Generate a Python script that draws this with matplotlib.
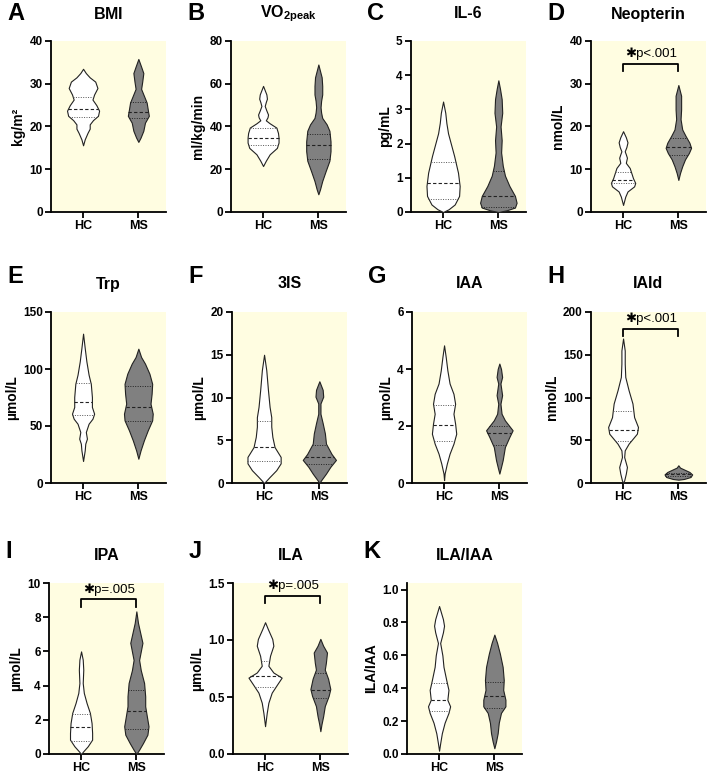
import numpy as np
import matplotlib
matplotlib.use("Agg")
import matplotlib.pyplot as plt

plt.rcParams["font.family"] = ["Liberation Sans", "DejaVu Sans"]
plt.rcParams["font.weight"] = "bold"
plt.rcParams["mathtext.fontset"] = "custom"
plt.rcParams["mathtext.rm"] = "Liberation Sans:bold"
plt.rcParams["mathtext.bf"] = "Liberation Sans:bold"

groups = ["HC", "MS"]

# violin outlines: y level and half width (x units, 1 = group spacing)
bmi_hc_y = [15.6, 17, 18.5, 19.5, 20.5, 21.5, 22.5, 23.7, 25, 26.3, 27.5, 29, 30.5, 31.5, 32.5, 33.5]
bmi_hc_w = [0, 0.03, 0.08, 0.12, 0.12, 0.18, 0.27, 0.29, 0.24, 0.17, 0.2, 0.26, 0.22, 0.12, 0.05, 0]
bmi_ms_y = [16.4, 17.4, 19, 20.9, 22.5, 24, 25.6, 27.2, 28.8, 30.5, 32.5, 34, 35.8]
bmi_ms_w = [0, 0.04, 0.09, 0.12, 0.19, 0.17, 0.15, 0.1, 0.05, 0.07, 0.09, 0.05, 0]
bmi_q = [[22.3, 24.0, 26.8], [21.9, 23.3, 25.8]]

vo2_hc_y = [21.5, 24, 27, 30, 32.5, 34.8, 37, 39.5, 41.5, 42.9, 44.3, 45.6, 47.5, 49.6, 51.5, 53, 55, 57, 59]
vo2_hc_w = [0, 0.05, 0.12, 0.25, 0.28, 0.28, 0.27, 0.24, 0.12, 0.05, 0.08, 0.09, 0.06, 0.03, 0.05, 0.07, 0.06, 0.03, 0]
vo2_ms_y = [8.3, 10.6, 14.5, 19, 24, 28.5, 33, 38, 41, 44, 46.5, 49, 52, 55, 59, 63, 66, 69]
vo2_ms_w = [0, 0.03, 0.07, 0.13, 0.2, 0.22, 0.22, 0.2, 0.15, 0.07, 0.05, 0.04, 0.05, 0.07, 0.07, 0.06, 0.03, 0]
vo2_q = [[31.4, 34.8, 39.2], [24.6, 31.2, 36.7]]

il6_hc_y = [0, 0.08, 0.22, 0.47, 0.76, 1.15, 1.64, 2.0, 2.3, 2.6, 2.9, 3.23]
il6_hc_w = [0, 0.1, 0.21, 0.29, 0.3, 0.27, 0.2, 0.14, 0.09, 0.06, 0.04, 0]
il6_ms_y = [0, 0.05, 0.13, 0.27, 0.47, 0.76, 1.06, 1.35, 1.74, 2.1, 2.5, 2.9, 3.3, 3.6, 3.85]
il6_ms_w = [0, 0.15, 0.3, 0.33, 0.3, 0.2, 0.12, 0.08, 0.05, 0.06, 0.04, 0.07, 0.06, 0.03, 0]
il6_q = [[0.39, 0.84, 1.45], [0.16, 0.48, 1.2]]

neo_hc_y = [1.65, 3.6, 4.8, 6.0, 6.8, 7.9, 9.1, 10.3, 11.5, 12.7, 13.5, 14.2, 15.2, 16.3, 17.5, 18.9]
neo_hc_w = [0, 0.04, 0.08, 0.2, 0.22, 0.18, 0.15, 0.12, 0.05, 0.07, 0.05, 0.03, 0.06, 0.08, 0.05, 0]
neo_ms_y = [7.5, 9.1, 10.7, 12.3, 13.8, 15, 16.2, 17.8, 19.3, 21.7, 24, 27.2, 29.7]
neo_ms_w = [0, 0.03, 0.07, 0.12, 0.19, 0.23, 0.2, 0.13, 0.07, 0.04, 0.05, 0.05, 0]
neo_q = [[6.8, 7.5, 9.3], [13.4, 15.2, 17.4]]

trp_hc_y = [19.3, 28.7, 34.5, 38.9, 44.7, 52, 56.4, 60.8, 66.7, 75.4, 87, 95, 106.7, 118.4, 131]
trp_hc_w = [0, 0.03, 0.04, 0.07, 0.05, 0.1, 0.17, 0.2, 0.16, 0.16, 0.14, 0.1, 0.06, 0.03, 0]
trp_ms_y = [21.3, 28.6, 37.4, 46.2, 55, 60.8, 69.6, 78.4, 87, 95.9, 104.7, 110.5, 117.8]
trp_ms_w = [0, 0.04, 0.1, 0.17, 0.25, 0.26, 0.22, 0.24, 0.25, 0.2, 0.12, 0.05, 0]
trp_q = [[60, 71, 88], [54.4, 67, 85]]

tis_hc_y = [0, 0.7, 1.5, 2.3, 3.05, 4.2, 5.4, 6.6, 7.7, 8.9, 10.9, 13.2, 15]
tis_hc_w = [0, 0.1, 0.22, 0.3, 0.3, 0.19, 0.15, 0.13, 0.13, 0.1, 0.07, 0.04, 0]
tis_ms_y = [0, 0.3, 1.1, 1.9, 2.7, 3.4, 4.6, 5.8, 7.0, 8.1, 9.3, 10.1, 10.9, 11.9]
tis_ms_w = [0, 0.03, 0.12, 0.2, 0.3, 0.22, 0.12, 0.1, 0.06, 0.02, 0.02, 0.07, 0.06, 0]
tis_q = [[2.6, 4.23, 7.2], [2.2, 3.05, 4.5]]

iaa_hc_y = [0.1, 0.33, 0.68, 1.03, 1.38, 1.73, 2.08, 2.43, 2.78, 3.13, 3.49, 3.95, 4.42, 4.83]
iaa_hc_w = [0, 0.01, 0.05, 0.1, 0.17, 0.22, 0.2, 0.17, 0.2, 0.17, 0.1, 0.06, 0.03, 0]
iaa_ms_y = [0.33, 0.56, 0.8, 1.03, 1.26, 1.61, 1.85, 2.2, 2.43, 2.78, 3.08, 3.49, 3.72, 4.0, 4.19]
iaa_ms_w = [0, 0.03, 0.06, 0.08, 0.1, 0.18, 0.24, 0.1, 0.04, 0.02, 0.05, 0.02, 0.05, 0.03, 0]
iaa_q = [[1.46, 2.02, 2.74], [1.34, 1.75, 1.99]]

iald_hc_y = [0, 3, 11, 18.7, 30.4, 38.2, 46, 57.7, 65.5, 77, 93, 108.5, 124, 139.6, 155, 169]
iald_hc_w = [0, 0.02, 0.05, 0.07, 0.02, 0.03, 0.1, 0.25, 0.27, 0.2, 0.17, 0.1, 0.04, 0.03, 0.03, 0]
iald_ms_y = [3.9, 4.7, 7, 10, 12.9, 18, 20.7]
iald_ms_w = [0, 0.1, 0.22, 0.25, 0.2, 0.03, 0]
iald_q = [[49, 62.4, 84], [8.5, 10.5, 12]]

ipa_hc_y = [0, 0.16, 0.45, 0.84, 1.23, 1.81, 2.4, 2.98, 3.57, 4.15, 4.93, 5.52, 6.0]
ipa_hc_w = [0, 0.04, 0.12, 0.2, 0.2, 0.19, 0.16, 0.1, 0.05, 0.03, 0.04, 0.03, 0]
ipa_ms_y = [0, 0.25, 0.64, 1.13, 1.62, 2.2, 2.79, 3.37, 4.15, 4.9, 5.5, 6.0, 6.5, 7.08, 7.66, 8.34]
ipa_ms_w = [0, 0.05, 0.12, 0.2, 0.22, 0.19, 0.16, 0.16, 0.14, 0.08, 0.05, 0.08, 0.11, 0.07, 0.03, 0]
ipa_q = [[0.74, 1.56, 2.32], [1.46, 2.5, 3.72]]

ila_hc_y = [0.244, 0.36, 0.45, 0.538, 0.612, 0.67, 0.715, 0.774, 0.862, 0.95, 1.009, 1.097, 1.156]
ila_hc_w = [0, 0.03, 0.06, 0.12, 0.22, 0.3, 0.15, 0.06, 0.09, 0.15, 0.13, 0.05, 0]
ila_ms_y = [0.2, 0.26, 0.33, 0.42, 0.51, 0.57, 0.66, 0.74, 0.8, 0.89, 0.95, 1.01]
ila_ms_w = [0, 0.02, 0.05, 0.08, 0.15, 0.18, 0.14, 0.08, 0.1, 0.12, 0.05, 0]
ila_q = [[0.59, 0.68, 0.82], [0.49, 0.56, 0.71]]

rat_hc_y = [0.02, 0.065, 0.126, 0.19, 0.25, 0.29, 0.33, 0.39, 0.45, 0.53, 0.6, 0.675, 0.74, 0.78, 0.82, 0.9]
rat_hc_w = [0, 0.02, 0.05, 0.1, 0.17, 0.2, 0.15, 0.17, 0.13, 0.08, 0.06, 0.02, 0.07, 0.09, 0.07, 0]
rat_ms_y = [0.035, 0.075, 0.126, 0.19, 0.25, 0.29, 0.33, 0.39, 0.45, 0.53, 0.61, 0.675, 0.726]
rat_ms_w = [0, 0.03, 0.06, 0.08, 0.12, 0.2, 0.2, 0.16, 0.17, 0.15, 0.1, 0.05, 0]
rat_q = [[0.26, 0.33, 0.43], [0.28, 0.355, 0.44]]

panels = [
    ("A", r"$\mathbf{BMI}$", "kg/m²", (bmi_hc_y, bmi_hc_w), (bmi_ms_y, bmi_ms_w), bmi_q, (0, 40), np.arange(0, 41, 10), None, None),
    ("B", r"$\mathbf{VO_{2peak}}$", "ml/kg/min", (vo2_hc_y, vo2_hc_w), (vo2_ms_y, vo2_ms_w), vo2_q, (0, 80), np.arange(0, 81, 20), None, None),
    ("C", "IL-6", "pg/mL", (il6_hc_y, il6_hc_w), (il6_ms_y, il6_ms_w), il6_q, (0, 5), np.arange(0, 6, 1), None, None),
    ("D", "Neopterin", "nmol/L", (neo_hc_y, neo_hc_w), (neo_ms_y, neo_ms_w), neo_q, (0, 40), np.arange(0, 41, 10), "p<.001", 34.7),
    ("E", "Trp", "µmol/L", (trp_hc_y, trp_hc_w), (trp_ms_y, trp_ms_w), trp_q, (0, 150), np.arange(0, 151, 50), None, None),
    ("F", "3IS", "µmol/L", (tis_hc_y, tis_hc_w), (tis_ms_y, tis_ms_w), tis_q, (0, 20), np.arange(0, 21, 5), None, None),
    ("G", "IAA", "µmol/L", (iaa_hc_y, iaa_hc_w), (iaa_ms_y, iaa_ms_w), iaa_q, (0, 6), np.arange(0, 7, 2), None, None),
    ("H", "IAld", "nmol/L", (iald_hc_y, iald_hc_w), (iald_ms_y, iald_ms_w), iald_q, (0, 200), np.arange(0, 201, 50), "p<.001", 180.5),
    ("I", "IPA", "µmol/L", (ipa_hc_y, ipa_hc_w), (ipa_ms_y, ipa_ms_w), ipa_q, (0, 10), np.arange(0, 11, 2), "p=.005", 9.06),
    ("J", "ILA", "µmol/L", (ila_hc_y, ila_hc_w), (ila_ms_y, ila_ms_w), ila_q, (0, 1.5), np.arange(0, 1.51, 0.5), "p=.005", 1.39),
    ("K", "ILA/IAA", "ILA/IAA", (rat_hc_y, rat_hc_w), (rat_ms_y, rat_ms_w), rat_q, (0, 1.04), np.arange(0, 1.01, 0.2), None, None),
]

W, H = 709, 776
fig = plt.figure(figsize=(W / 100, H / 100), dpi=100)

lefts = [[51, 231, 411, 591], [51, 232, 412, 591], [49, 233, 407]]
tops = [41, 312, 583]
letter_y = [14, 276, 551]
title_y = [14, 284, 555]
aw, ah = 115, 171

i = 0
for r in range(3):
    for c in range(len(lefts[r])):
        letter, title, ylab, hc, ms, q, ylim, yt, ptxt, py = panels[i]
        i += 1
        L = lefts[r][c]
        T = tops[r]
        ax = fig.add_axes([L / W, 1 - (T + ah) / H, aw / W, ah / H])
        ax.set_facecolor("#FFFDE1")
        for x, (ys, ws), col, qq in [(1, hc, "white", q[0]), (2, ms, "#808080", q[1])]:
            ys = np.array(ys)
            ws = np.array(ws)
            ax.fill_betweenx(ys, x - ws, x + ws, facecolor=col, edgecolor="#222222", lw=0.8, zorder=3)
            lc = "#555555" if col == "white" else "#222222"
            for k, v in enumerate(qq):
                hw = np.interp(v, ys, ws)
                if k == 1:
                    ax.plot([x - hw, x + hw], [v, v], color="#222222", lw=0.8, ls=(0, (3, 2)), zorder=4)
                else:
                    ax.plot([x - hw, x + hw], [v, v], color=lc, lw=0.7, ls=(0, (1, 1.5)), zorder=4)
        if ptxt:
            span = ylim[1] - ylim[0]
            ax.plot([1, 1, 2, 2], [py - span * 0.045, py, py, py - span * 0.045], color="black", lw=1.3)
            ax.text(1.5, py + span * 0.02, "✱" + ptxt, ha="center", va="bottom", fontsize=9.5, fontweight="normal",
                    family=["Liberation Sans", "DejaVu Sans"])
        ax.set_xlim(0.42, 2.5)
        ax.set_ylim(*ylim)
        ax.set_xticks([1, 2])
        ax.set_xticklabels(groups, fontsize=9, fontweight="bold")
        ax.set_yticks(yt)
        if letter in ("J", "K"):
            ax.set_yticklabels([f"{v:.1f}" for v in yt])
        for lab in ax.get_yticklabels():
            lab.set_fontsize(8.5)
            lab.set_fontweight("bold")
        ax.set_ylabel(ylab, fontsize=10, fontweight="bold", labelpad=3)
        for s in ["top", "right"]:
            ax.spines[s].set_visible(False)
        for s in ["left", "bottom"]:
            ax.spines[s].set_linewidth(1.3)
        ax.tick_params(width=1.3, length=4, pad=2)
        fig.text((L + aw / 2) / W, 1 - title_y[r] / H, title, ha="center", va="center", fontsize=11.5, fontweight="bold")
        fig.text((L - 44) / W, 1 - letter_y[r] / H, letter, ha="left", va="center", fontsize=17, fontweight="bold")

fig.savefig("out.png", dpi=100)
